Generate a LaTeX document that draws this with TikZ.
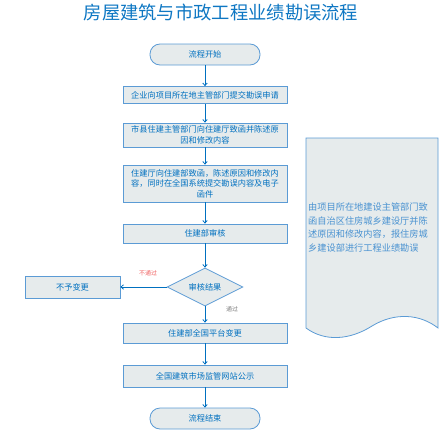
\documentclass[tikz,border=0pt]{standalone}
\usepackage{fontspec}
\usepackage{xcolor}
\usepackage{tikz}
\usetikzlibrary{shapes,arrows.meta,positioning,calc}
\newfontfamily\cjk{Noto Sans CJK SC}
\definecolor{flowblue}{RGB}{0,112,192}
\definecolor{edgeblue}{RGB}{91,155,213}
\definecolor{boxgray}{RGB}{230,235,236}
\definecolor{notered}{RGB}{240,100,100}

\begin{document}
\begin{tikzpicture}[
    x=1pt, y=-1pt,
    term/.style={rectangle, draw=edgeblue, fill=boxgray, line width=0.8pt, rounded corners=10pt, minimum width=110pt, minimum height=21pt, inner sep=0pt, text=flowblue, font=\cjk\fontsize{8.2}{10.5}\selectfont},
    proc/.style={rectangle, draw=edgeblue, fill=boxgray, line width=0.8pt, align=center, minimum width=164pt, inner sep=0pt, text=flowblue, font=\cjk\fontsize{8.2}{10.5}\selectfont},
    dec/.style={diamond, draw=edgeblue, fill=boxgray, line width=0.8pt, aspect=2, minimum width=76pt, minimum height=38pt, inner sep=0pt, text=flowblue, font=\cjk\fontsize{8.2}{10.5}\selectfont},
    lbl/.style={font=\cjk\fontsize{6}{7}\selectfont, inner sep=0pt},
    arr/.style={-{Straight Barb[length=2.5pt, width=4.5pt]}, line width=0.8pt, draw=flowblue}
]
    \useasboundingbox (0,0) rectangle (441,431);

    % title
    \node [text=flowblue!85!edgeblue, font=\cjk\fontsize{18.3}{22}\selectfont] (title) at (221,12) {房屋建筑与市政工程业绩勘误流程};

    % main flow
    \node [term] (start) at (205,54.5) {流程开始};
    \node [proc, minimum height=17pt] (n1) at (205,95) {企业向项目所在地主管部门提交勘误申请};
    \node [proc, minimum height=24pt] (n2) at (205,135) {市县住建主管部门向住建厅致函并陈述原\\因和修改内容};
    \node [proc, minimum height=37pt] (n3) at (205,183.5) {住建厅向住建部致函，陈述原因和修改内\\容，同时在全国系统提交勘误内容及电子\\函件};
    \node [proc, minimum height=19pt] (n4) at (205,233.5) {住建部审核};
    \node [dec] (check) at (205,287) {审核结果};
    \node [proc, minimum width=95pt, minimum height=22pt] (reject) at (72.5,287) {不予变更};
    \node [proc, minimum height=20pt] (n5) at (205,333) {住建部全国平台变更};
    \node [proc, minimum height=22pt] (n6) at (205,376) {全国建筑市场监管网站公示};
    \node [term] (finish) at (205,418.5) {流程结束};

    \draw [arr] (start) -- (n1);
    \draw [arr] (n1) -- (n2);
    \draw [arr] (n2) -- (n3);
    \draw [arr] (n3) -- (n4);
    \draw [arr] (n4) -- (check);
    \draw [arr] (check) -- (reject);
    \draw [arr] (check) -- (n5);
    \draw [arr] (n5) -- (n6);
    \draw [arr] (n6) -- (finish);

    \node [lbl, text=notered] (nolbl) at (148,273) {不通过};
    \node [lbl, text=gray] (yeslbl) at (232,309) {通过};

    % note sheet
    \draw [draw=edgeblue, fill=boxgray, line width=0.8pt]
        (306,138) -- (438,138) -- (438,328)
        .. controls (420,314) and (395,312) .. (372,326)
        .. controls (350,340) and (325,342) .. (306,328) -- cycle;
    \node [anchor=north west, align=left, inner sep=0pt, text=edgeblue!80!flowblue,
           font=\cjk\fontsize{9.2}{13.5}\selectfont] (note) at (308,203)
        {由项目所在地建设主管部门致\\函自治区住房城乡建设厅并陈\\述原因和修改内容，报住房城\\乡建设部进行工程业绩勘误};
\end{tikzpicture}
\end{document}
